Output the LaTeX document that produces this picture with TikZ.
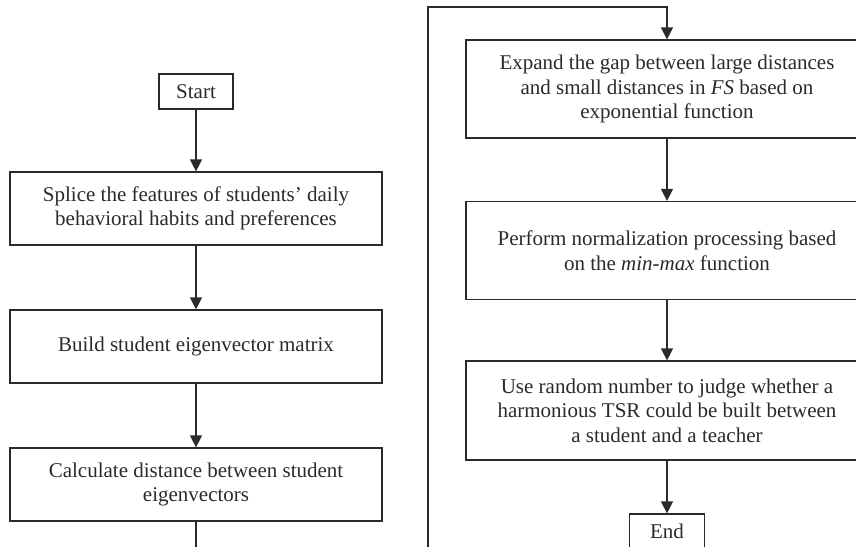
\documentclass[tikz,border=0pt]{standalone}
\usepackage{fontspec}
\setmainfont{Liberation Serif}
\usetikzlibrary{arrows.meta}
\definecolor{ink}{HTML}{2A2A2A}
\begin{document}
\begin{tikzpicture}[x=1pt,y=-1pt,
  every node/.style={font=\fontsize{21}{24.5}\selectfont, text=ink},
  box/.style={draw=ink, line width=1.2pt, inner sep=0pt, align=center},
  conn/.style={draw=ink, line width=1.2pt},
  arr/.style={conn, -{Triangle[width=12pt,length=12pt]}}]
\useasboundingbox (0,0) rectangle (856,546);
% left column
\node[box, minimum width=74pt, minimum height=35pt] (start) at (196,91.5) {Start};
\node[box, minimum width=372pt, minimum height=73pt] (b1) at (196,208.5)
  {Splice the features of students’ daily\\behavioral habits and preferences};
\node[box, minimum width=372pt, minimum height=73pt] (b2) at (196,346.5)
  {Build student eigenvector matrix};
\node[box, minimum width=372pt, minimum height=73pt] (b3) at (196,484.5)
  {Calculate distance between student\\eigenvectors};
% right column
\node[box, minimum width=402pt, minimum height=98pt] (r1) at (667,89)
  {Expand the gap between large distances\\and small distances in \textit{FS} based on\\exponential function};
\node[box, minimum width=402pt, minimum height=98pt] (r2) at (667,250.5)
  {Perform normalization processing based\\on the \textit{min-max} function};
\node[box, minimum width=402pt, minimum height=99pt] (r3) at (667,410.5)
  {Use random number to judge whether a\\harmonious TSR could be built between\\a student and a teacher};
\node[box, minimum width=75pt, minimum height=35pt] (end) at (667,531.5) {End};
% connectors
\coordinate (lb) at (196,548);
\coordinate (rb) at (428,548);
\coordinate (rt) at (428,7);
\coordinate (ra) at (667,7);
\draw[arr] (start) -- (b1);
\draw[arr] (b1) -- (b2);
\draw[arr] (b2) -- (b3);
\draw[conn] (b3.south) -- (lb);
\draw[arr] (rb) -- (rt) -- (ra) -- (r1.north);
\draw[arr] (r1) -- (r2);
\draw[arr] (r2) -- (r3);
\draw[arr] (r3) -- (end);
\end{tikzpicture}
\end{document}
